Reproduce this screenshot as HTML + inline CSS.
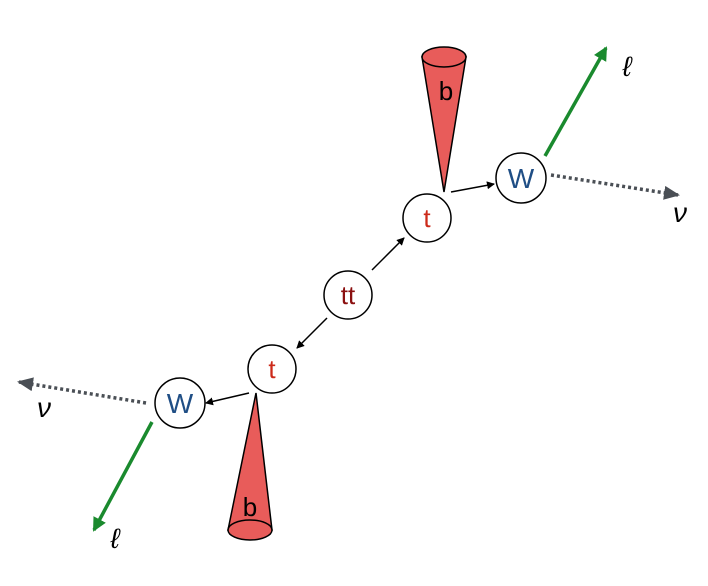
<!DOCTYPE html>
<html><head><meta charset="utf-8"><style>
html,body{margin:0;padding:0;background:#fff;}
svg{display:block}
text{font-family:"Liberation Sans","DejaVu Sans",sans-serif;}
</style></head><body>
<svg width="708" height="586" viewBox="0 0 708 586">
<defs>
<marker id="ab" markerWidth="8" markerHeight="8" refX="7" refY="4" orient="auto" markerUnits="userSpaceOnUse"><path d="M0,0 L8,4 L0,8 z" fill="#000"/></marker>
<marker id="ag" markerWidth="14" markerHeight="14" refX="12" refY="7" orient="auto" markerUnits="userSpaceOnUse"><path d="M0,0 L14,7 L0,14 z" fill="#1a8a2e"/></marker>
<marker id="ad" markerWidth="16" markerHeight="14" refX="14" refY="7" orient="auto" markerUnits="userSpaceOnUse"><path d="M0,0 L16,7 L0,14 z" fill="#4a4f55"/></marker>
</defs>
<g>
<path d="M422,57 L444,192 L466,57 Z" fill="#e85c5a" stroke="#000" stroke-width="1.5"/>
<ellipse cx="444" cy="57" rx="22" ry="10" fill="#e85c5a" stroke="#000" stroke-width="1.5"/>
<text x="446" y="100" font-size="26" text-anchor="middle" fill="#000">b</text>
</g>
<g>
<path d="M228,530 L256,393 L272,530 Z" fill="#e85c5a" stroke="#000" stroke-width="1.5"/>
<ellipse cx="250" cy="530" rx="22" ry="10" fill="#e85c5a" stroke="#000" stroke-width="1.5"/>
<text x="250" y="516" font-size="26" text-anchor="middle" fill="#000">b</text>
</g>
<g stroke="#000" stroke-width="1.5">
<line x1="372" y1="270" x2="404" y2="238" marker-end="url(#ab)"/>
<line x1="327" y1="318" x2="297" y2="348" marker-end="url(#ab)"/>
<line x1="451" y1="192" x2="494" y2="184" marker-end="url(#ab)"/>
<line x1="249" y1="393" x2="206" y2="403" marker-end="url(#ab)"/>
</g>
<g stroke="#1a8a2e" stroke-width="3.5">
<line x1="545" y1="156" x2="606" y2="48" marker-end="url(#ag)"/>
<line x1="152" y1="422" x2="94" y2="530" marker-end="url(#ag)"/>
</g>
<g stroke="#4a4f55" stroke-width="3.5" stroke-dasharray="3,3">
<line x1="551" y1="175" x2="678" y2="195" marker-end="url(#ad)"/>
<line x1="146" y1="403" x2="19" y2="382" marker-end="url(#ad)"/>
</g>
<g stroke="#000" stroke-width="1.5" fill="#fff">
<circle cx="348" cy="295" r="24"/>
<circle cx="427" cy="218" r="24"/>
<circle cx="272" cy="369" r="24"/>
<circle cx="521" cy="178" r="25"/>
<circle cx="180" cy="403" r="25"/>
</g>
<text x="348" y="304" font-size="26" text-anchor="middle" fill="#8b1010">tt</text>
<text x="427" y="227" font-size="26" text-anchor="middle" fill="#cc2a1a">t</text>
<text x="272" y="378" font-size="26" text-anchor="middle" fill="#cc2a1a">t</text>
<text x="521" y="188" font-size="28" text-anchor="middle" fill="#1f4e85">W</text>
<text x="180" y="413" font-size="28" text-anchor="middle" fill="#1f4e85">W</text>
<text x="627" y="76" font-size="28" font-style="italic" font-family="Liberation Serif,serif" text-anchor="middle">ℓ</text>
<text x="115" y="548" font-size="28" font-style="italic" font-family="Liberation Serif,serif" text-anchor="middle">ℓ</text>
<text x="680" y="222" font-size="28" font-style="italic" font-family="Liberation Serif,serif" text-anchor="middle">ν</text>
<text x="44" y="417" font-size="28" font-style="italic" font-family="Liberation Serif,serif" text-anchor="middle">ν</text>
</svg>
</body></html>
